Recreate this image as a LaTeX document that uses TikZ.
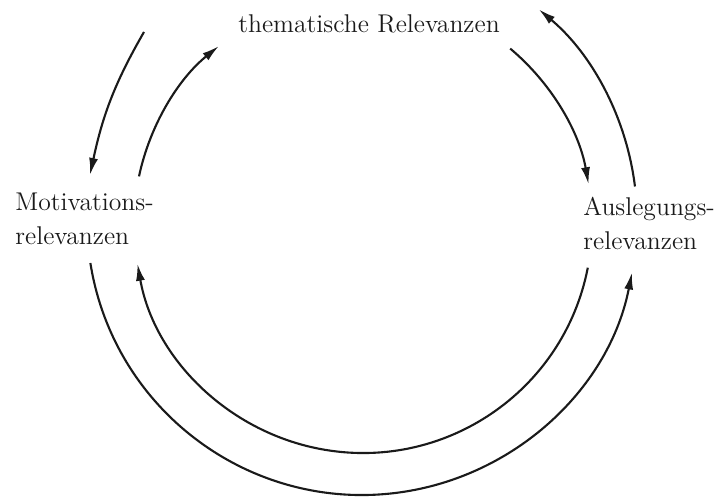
\documentclass[tikz,border=0pt]{standalone}
\usetikzlibrary{arrows.meta, calc}
\definecolor{ink}{HTML}{1A1A1A}
\tikzset{
  flowarc/.style={-{Latex[length=3.4mm, width=1.8mm]}, line width=1.2pt, draw=ink},
  relbl/.style={font=\fontsize{14.6}{19.3}\selectfont, text=ink, inner sep=0pt, align=left}
}

\begin{document}
\begin{tikzpicture}[x=0.02cm, y=0.02cm]

  \useasboundingbox (0,0) rectangle (716,500);

  % ---- Centres of the two rings ------------------------------------------
  \coordinate (outer) at (362,280);
  \coordinate (inner) at (363,276);

  % ---- Labels --------------------------------------------------------------
  \node[relbl, anchor=base] (them) at (369,467) {thematische Relevanzen};
  \node[relbl, anchor=north west] (motiv) at (15,307) {Motivations-\\relevanzen};
  \node[relbl, anchor=north west] (ausl) at (583,303) {Auslegungs-\\relevanzen};

  % ---- Start points of the arcs --------------------------------------------
  \coordinate (tl-out) at (144,468);
  \coordinate (tl-end) at (90,325);
  \coordinate (tl-in)  at ($(inner)+(168:229)$);
  \coordinate (tr-in)  at ($(inner)+(50:229)$);
  \coordinate (tr-out) at ($(outer)+(7:275)$);
  \coordinate (bt-out) at ($(outer)+(189:275)$);
  \coordinate (bt-in)  at ($(inner)+(-11:229)$);

  % ---- Upper left: thematic <-> motivational -------------------------------
  \draw[flowarc] (tl-out) to[out=240, in=78] (tl-end);
  \draw[flowarc] (tl-in)  arc[start angle=168, end angle=129, radius=229];

  % ---- Upper right: thematic <-> interpretational --------------------------
  \draw[flowarc] (tr-in)  arc[start angle=50, end angle=10, radius=229];
  \draw[flowarc] (tr-out) arc[start angle=7, end angle=50, radius=275];

  % ---- Lower half ----------------------------------------------------------
  \draw[flowarc] (bt-out) arc[start angle=189, end angle=349, radius=275];
  \draw[flowarc] (bt-in)  arc[start angle=-11, end angle=-170, radius=229];

\end{tikzpicture}
\end{document}
